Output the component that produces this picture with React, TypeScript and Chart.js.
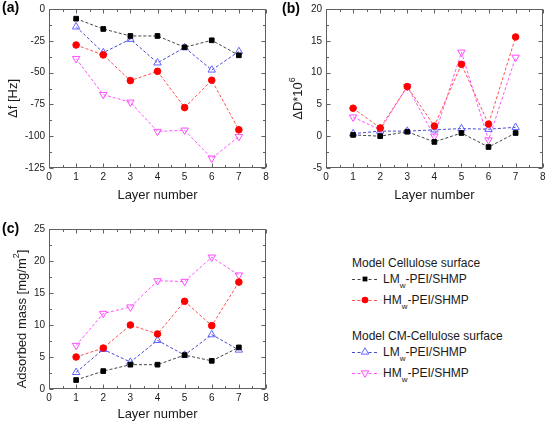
import React, { useEffect, useRef } from 'react';
import { Chart, registerables } from 'chart.js';

Chart.register(...registerables);

// ---------- data ----------
const layers = [1, 2, 3, 4, 5, 6, 7];
const xTicks = [0, 1, 2, 3, 4, 5, 6, 7, 8];

// (a) frequency shift, Hz
const dfLMCell = [-7.6, -15.7, -21.2, -21.2, -30.1, -24.6, -36.4];
const dfHMCell = [-28.3, -36.1, -56.3, -49, -77.5, -56, -95];
const dfLMCM = [-14, -34.3, -23.8, -42.3, -30.3, -47.9, -33.4];
const dfHMCM = [-39, -67.3, -73.3, -96.3, -95.3, -117.3, -100.3];
const dfTicks = [-125, -100, -75, -50, -25, 0];

// (b) dissipation change *1e6
const dDLMCell = [0.2, 0.0, 0.7, -0.9, 0.5, -1.7, 0.5];
const dDHMCell = [4.4, 1.3, 7.8, 1.6, 11.3, 1.9, 15.6];
const dDLMCM = [0.4, 0.8, 0.8, 1.0, 1.2, 1.1, 1.4];
const dDHMCM = [3.0, 1.0, 7.8, 0.0, 13.2, -0.6, 12.4];
const dDTicks = [-5, 0, 5, 10, 15, 20];

// (c) adsorbed mass, mg/m2
const massLMCell = [1.4, 2.8, 3.8, 3.8, 5.3, 4.4, 6.5];
const massHMCell = [5.0, 6.4, 10.0, 8.6, 13.7, 9.9, 16.7];
const massLMCM = [2.6, 6.2, 4.2, 7.6, 5.3, 8.5, 6.1];
const massHMCM = [6.8, 11.8, 12.8, 16.9, 16.8, 20.6, 17.8];
const massTicks = [0, 5, 10, 15, 20, 25];

const FONT = '"Liberation Sans", Arial, Helvetica, sans-serif';
const TEXT = '#1a1a1a';

const seriesStyle = [
  { line: '#444444', pointStyle: 'rect', fill: '#000000', stroke: '#000000', r: 3.3, rot: 0 },
  { line: '#ff5050', pointStyle: 'circle', fill: '#ff0000', stroke: '#ff0000', r: 3.3, rot: 0 },
  { line: '#4a4ad0', pointStyle: 'triangle', fill: 'rgba(255,255,255,0)', stroke: '#6464ff', r: 4.3, rot: 0 },
  { line: '#ff55ff', pointStyle: 'triangle', fill: 'rgba(255,255,255,0)', stroke: '#ff4cff', r: 4.3, rot: 180 },
];

const decorPlugin = {
  id: 'decor',
  afterDraw(chart: any, _args: any, opts: any) {
    const { ctx, chartArea: a } = chart;
    const xs = chart.scales.x;
    const ys = chart.scales.y;
    ctx.save();
    const L = Math.round(a.left) + 0.5;
    const R = Math.round(a.right) - 0.5;
    const T = Math.round(a.top) + 0.5;
    const B = Math.round(a.bottom) - 0.5;
    ctx.strokeStyle = '#606060';
    ctx.lineWidth = 1;
    ctx.strokeRect(L, T, R - L, B - T);
    ctx.beginPath();
    const isMajor = (v: number, step: number) => Math.abs(v / step - Math.round(v / step)) < 1e-6;
    for (let v = xs.min; v <= xs.max + 1e-9; v += opts.xMinor) {
      const p = Math.round(xs.getPixelForValue(v)) + 0.5;
      const len = isMajor(v, opts.xMajor) ? 4 : 2.5;
      ctx.moveTo(p, B); ctx.lineTo(p, B - len);
      ctx.moveTo(p, T); ctx.lineTo(p, T + len);
    }
    for (let v = ys.min; v <= ys.max + 1e-9; v += opts.yMinor) {
      const p = Math.round(ys.getPixelForValue(v)) + 0.5;
      const len = isMajor(v - ys.min, opts.yMajor) ? 4 : 2.5;
      ctx.moveTo(L, p); ctx.lineTo(L + len, p);
      ctx.moveTo(R, p); ctx.lineTo(R - len, p);
    }
    ctx.stroke();

    ctx.fillStyle = TEXT;
    ctx.font = `13px ${FONT}`;
    ctx.textAlign = 'center';
    ctx.textBaseline = 'middle';
    ctx.fillText(opts.xTitle, (a.left + a.right) / 2, a.bottom + opts.xTitleOffset);

    ctx.translate(opts.yTitleX, (a.top + a.bottom) / 2 + opts.yTitleShift);
    ctx.rotate(-Math.PI / 2);
    ctx.textAlign = 'left';
    const segs = opts.yTitle as { t: string; sup?: boolean }[];
    const widths = segs.map((s) => {
      ctx.font = `${s.sup ? 9 : 13}px ${FONT}`;
      return ctx.measureText(s.t).width;
    });
    let cx = -widths.reduce((p, w) => p + w, 0) / 2;
    segs.forEach((s, i) => {
      ctx.font = `${s.sup ? 9 : 13}px ${FONT}`;
      ctx.fillText(s.t, cx, s.sup ? -5 : 0);
      cx += widths[i];
    });
    ctx.restore();
  },
};

type PanelSpec = {
  series: number[][];
  yMin: number;
  yMax: number;
  yTicks: number[];
  yMinor: number;
  yMajor: number;
  yWidth: number;
  xHeight: number;
  padTop: number;
  padRight: number;
  yTitle: { t: string; sup?: boolean }[];
  yTitleX: number;
  xTitleOffset: number;
};

function makeConfig(p: PanelSpec): any {
  return {
    type: 'line',
    data: {
      datasets: p.series.map((vals, si) => {
        const s = seriesStyle[si];
        return {
          data: layers.map((x, i) => ({ x, y: vals[i] })),
          borderColor: s.line,
          borderWidth: 1,
          borderDash: [3, 2],
          tension: 0,
          pointStyle: s.pointStyle,
          pointRotation: s.rot,
          pointRadius: s.r,
          pointBackgroundColor: s.fill,
          pointBorderColor: s.stroke,
          pointBorderWidth: 1,
          fill: false,
        };
      }),
    },
    options: {
      animation: false,
      responsive: false,
      events: [],
      layout: { padding: { left: 0, right: p.padRight, top: p.padTop, bottom: 0 } },
      plugins: {
        legend: { display: false },
        tooltip: { enabled: false },
        decor: {
          xTitle: 'Layer number',
          xTitleOffset: p.xTitleOffset,
          yTitle: p.yTitle,
          yTitleX: p.yTitleX,
          yTitleShift: 10,
          xMinor: 0.5,
          xMajor: 1,
          yMinor: p.yMinor,
          yMajor: p.yMajor,
        },
      },
      scales: {
        x: {
          type: 'linear',
          min: 0,
          max: 8,
          afterBuildTicks: (s: any) => {
            s.ticks = xTicks.map((v) => ({ value: v }));
          },
          ticks: { font: { size: 10, family: FONT }, color: TEXT, padding: 3, maxRotation: 0, autoSkip: false },
          grid: { display: false, drawTicks: false },
          border: { display: false },
          afterFit: (s: any) => {
            s.height = p.xHeight;
            s.paddingLeft = 0;
            s.paddingRight = 0;
          },
        },
        y: {
          type: 'linear',
          min: p.yMin,
          max: p.yMax,
          afterBuildTicks: (s: any) => {
            s.ticks = p.yTicks.map((v) => ({ value: v }));
          },
          ticks: { font: { size: 10, family: FONT }, color: TEXT, padding: 4, autoSkip: false },
          grid: { display: false, drawTicks: false },
          border: { display: false },
          afterFit: (s: any) => {
            s.width = p.yWidth;
            s.paddingTop = 0;
            s.paddingBottom = 0;
          },
        },
      },
    },
    plugins: [decorPlugin],
  };
}

function Panel(props: { left: number; top: number; width: number; height: number; spec: PanelSpec }) {
  const ref = useRef<HTMLCanvasElement>(null);
  useEffect(() => {
    const chart = new Chart(ref.current as HTMLCanvasElement, makeConfig(props.spec));
    return () => chart.destroy();
  }, []);
  return (
    <canvas
      ref={ref}
      width={props.width}
      height={props.height}
      style={{ position: 'absolute', left: props.left, top: props.top, width: props.width, height: props.height, display: 'block' }}
    />
  );
}

function Marker({ idx }: { idx: number }) {
  const s = seriesStyle[idx];
  const cx = 13;
  const cy = 7;
  let m: any = null;
  if (s.pointStyle === 'rect') m = <rect x={cx - 2.4} y={cy - 2.4} width={4.8} height={4.8} fill={s.fill} />;
  else if (s.pointStyle === 'circle') m = <circle cx={cx} cy={cy} r={3.3} fill={s.fill} />;
  else {
    const r = 4.3;
    const d = s.rot ? -1 : 1;
    const pts = [
      [cx, cy - d * r],
      [cx + r * 0.866, cy + d * r * 0.5],
      [cx - r * 0.866, cy + d * r * 0.5],
    ]
      .map((q) => q.join(','))
      .join(' ');
    m = <polygon points={pts} fill="#fff" stroke={s.stroke} strokeWidth={1} />;
  }
  return (
    <svg width={26} height={14} style={{ position: 'absolute', left: 0, top: 0 }}>
      <line x1={0} y1={7.5} x2={26} y2={7.5} stroke={s.line} strokeWidth={1} strokeDasharray="3,2.5" />
      {m}
    </svg>
  );
}

const legendHeadings = ['Model Cellulose surface', 'Model CM-Cellulose surface'];
const legendPrefix = ['LM', 'HM', 'LM', 'HM'];
const legendSuffix = '-PEI/SHMP';

function LegendRow({ idx, top }: { idx: number; top: number }) {
  return (
    <div style={{ position: 'absolute', left: 352, top, height: 14, width: 180 }}>
      <Marker idx={idx} />
      <div style={{ position: 'absolute', left: 31, top: 0, lineHeight: '14px', fontSize: 12, whiteSpace: 'nowrap', color: TEXT }}>
        {legendPrefix[idx]}
        <span style={{ fontSize: 8, position: 'relative', top: 5 }}>w</span>
        {legendSuffix}
      </div>
    </div>
  );
}

const panelA: PanelSpec = {
  series: [dfLMCell, dfHMCell, dfLMCM, dfHMCM],
  yMin: -125, yMax: 0, yTicks: dfTicks, yMinor: 12.5, yMajor: 25,
  yWidth: 49, xHeight: 44, padTop: 9, padRight: 8,
  yTitle: [{ t: '\u0394f [Hz]' }], yTitleX: 13, xTitleOffset: 27,
};
const panelB: PanelSpec = {
  series: [dDLMCell, dDHMCell, dDLMCM, dDHMCM],
  yMin: -5, yMax: 20, yTicks: dDTicks, yMinor: 2.5, yMajor: 5,
  yWidth: 52, xHeight: 44, padTop: 9, padRight: 4,
  yTitle: [{ t: '\u0394D*10' }, { t: '6', sup: true }], yTitleX: 24, xTitleOffset: 27,
};
const panelC: PanelSpec = {
  series: [massLMCell, massHMCell, massLMCM, massHMCM],
  yMin: 0, yMax: 25, yTicks: massTicks, yMinor: 2.5, yMajor: 5,
  yWidth: 49, xHeight: 35, padTop: 23, padRight: 8,
  yTitle: [{ t: 'Adsorbed mass [mg/m' }, { t: '2', sup: true }, { t: ']' }], yTitleX: 22, xTitleOffset: 25,
};

const labelStyle: React.CSSProperties = {
  position: 'absolute', fontSize: 14, fontWeight: 'bold', lineHeight: '14px', color: '#000', whiteSpace: 'nowrap',
};

export default function App() {
  return (
    <div
      style={{
        position: 'absolute', left: 0, top: 0, width: 548, height: 424, overflow: 'hidden',
        background: '#ffffff', fontFamily: FONT,
      }}
    >
      <Panel left={0} top={0} width={274} height={212} spec={panelA} />
      <Panel left={274} top={0} width={274} height={212} spec={panelB} />
      <Panel left={0} top={206} width={274} height={218} spec={panelC} />
      <div style={{ ...labelStyle, left: 2, top: 0 }}>(a)</div>
      <div style={{ ...labelStyle, left: 282, top: 1 }}>(b)</div>
      <div style={{ ...labelStyle, left: 2, top: 221 }}>(c)</div>
      <div style={{ position: 'absolute', left: 352, top: 256, fontSize: 12, lineHeight: '14px', color: TEXT, whiteSpace: 'nowrap' }}>
        {legendHeadings[0]}
      </div>
      <LegendRow idx={0} top={272} />
      <LegendRow idx={1} top={293} />
      <div style={{ position: 'absolute', left: 352, top: 329, fontSize: 12, lineHeight: '14px', color: TEXT, whiteSpace: 'nowrap' }}>
        {legendHeadings[1]}
      </div>
      <LegendRow idx={2} top={345} />
      <LegendRow idx={3} top={366} />
    </div>
  );
}
